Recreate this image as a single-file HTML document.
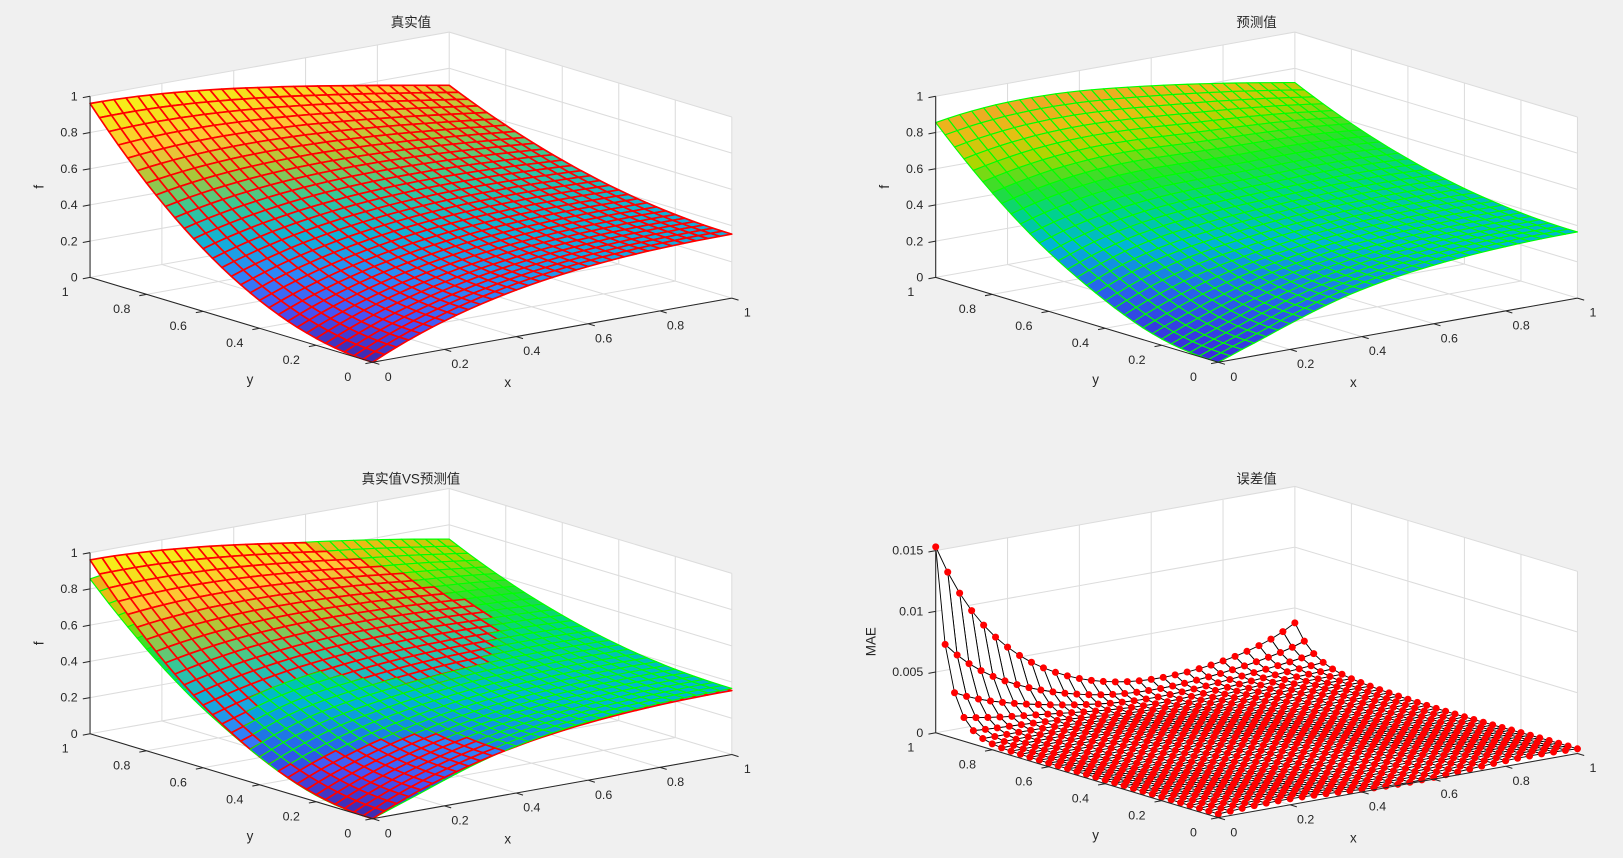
<!DOCTYPE html>
<html><head><meta charset="utf-8">
<style>
html,body{margin:0;padding:0;background:#f0f0f0;width:1623px;height:858px;overflow:hidden}
svg{display:block}
text{font-family:"Liberation Sans","Noto Sans CJK SC",sans-serif;fill:#262626}
</style></head>
<body>
<svg id="s" xmlns="http://www.w3.org/2000/svg" width="1623" height="858" viewBox="0 0 1568 829" preserveAspectRatio="none"></svg>
<script>
const parula=[[0,[62,38,168]],[0.125,[72,82,244]],[0.25,[46,135,247]],[0.375,[18,177,214]],[0.5,[55,200,151]],[0.625,[171,199,57]],[0.75,[254,195,56]],[0.875,[245,226,29]],[1,[249,251,21]]];
const predmap=[[0,[60,40,220]],[0.2,[40,100,235]],[0.35,[0,180,215]],[0.47,[0,210,140]],[0.57,[40,222,50]],[0.68,[170,215,0]],[0.78,[232,190,20]],[0.9,[240,165,40]],[1,[245,150,40]]];
function cm(st,t){t=Math.max(0,Math.min(1,t));for(let i=1;i<st.length;i++){if(t<=st[i][0]){const a=st[i-1],b=st[i],u=(t-a[0])/(b[0]-a[0]);return 'rgb('+[0,1,2].map(k=>Math.round(a[1][k]+(b[1][k]-a[1][k])*u)).join(',')+')';}}return 'rgb('+st[st.length-1][1].join(',')+')';}
function f(x,y){return 0.96*(x+y*y)*Math.exp(-x);}
function g(x,y){return f(x,y)+Math.pow(y,3)*(-0.12*Math.pow(1-x,3)+0.015)-0.025*Math.exp(-((x-0.58)**2+(y-0.72)**2)/0.05)+0.012*x*(1-y)
 +0.018*Math.exp(-((x-0.15)**2+(y-0.45)**2)/0.03)-f(x,y)*0.25*Math.exp(-(x*x+y*y)/0.05);}
function e(x,y){return 0.015*Math.exp(-5*x)*Math.exp(-(1-y)*22)+0.0033*Math.exp(-(1-x)*6)*Math.exp(-(1-y)*14)+0.0003+0.0002*Math.sin(9*x)*Math.cos(7*y);}
const N=30;let out='';
function fmt(v){return (Math.round(v*1000)/1000).toString();}
function panel(ox,oy,zs,zmax,zt,zlab,surfs,title,tx,ty){
 const P=(x,y,z)=>[ox+x*347-y*273,oy-x*62-y*82-z*zs];
 const pt=a=>a.map(p=>p[0].toFixed(1)+','+p[1].toFixed(1)).join(' ');
 out+=`<polygon points="${pt([P(0,0,0),P(1,0,0),P(1,1,0),P(0,1,0)])}" fill="#fff"/>`;
 out+=`<polygon points="${pt([P(0,1,0),P(1,1,0),P(1,1,zmax),P(0,1,zmax)])}" fill="#fff"/>`;
 out+=`<polygon points="${pt([P(1,0,0),P(1,1,0),P(1,1,zmax),P(1,0,zmax)])}" fill="#fff"/>`;
 let gl='';
 for(let i=0;i<=5;i++){const t=i/5;
  gl+=`M${P(t,0,0)}L${P(t,1,0)}L${P(t,1,zmax)}M${P(0,t,0)}L${P(1,t,0)}L${P(1,t,zmax)}`;}
 zt.forEach(z=>{gl+=`M${P(0,1,z)}L${P(1,1,z)}L${P(1,0,z)}`;});
 gl+=`M${P(0,1,zmax)}L${P(1,1,zmax)}L${P(1,0,zmax)}`;
 out+=`<path d="${gl.replace(/(\d)\s*,\s*/g,'$1 ')}" stroke="#dcdcdc" stroke-width="1" fill="none"/>`;
 const quads=[];
 surfs.forEach(s=>{for(let i=0;i<N;i++)for(let j=0;j<N;j++){
  const x0=i/N,x1=(i+1)/N,y0=j/N,y1=(j+1)/N;
  const zz=[s.fn(x0,y0),s.fn(x1,y0),s.fn(x1,y1),s.fn(x0,y1)];
  const xm=(x0+x1)/2,ym=(y0+y1)/2,zm=(zz[0]+zz[1]+zz[2]+zz[3])/4;
  const far=0.974*(0.61*xm+0.79*ym)-0.094*(zm*zs/175);
  quads.push({far,s,pts:[P(x0,y0,zz[0]),P(x1,y0,zz[1]),P(x1,y1,zz[2]),P(x0,y1,zz[3])],c:zm});}});
 quads.sort((a,b)=>b.far-a.far);
 quads.forEach(q=>{const fill=q.s.cmap?cm(q.s.cmap,q.c):'#fff';
  out+=`<polygon points="${pt(q.pts)}" fill="${fill}" stroke="${q.s.edge}" stroke-width="${q.s.lw}" stroke-linejoin="round"/>`;});
 surfs.forEach(s=>{if(s.markers){for(let i=0;i<=N;i++)for(let j=0;j<=N;j++){const p=P(i/N,j/N,s.fn(i/N,j/N));out+=`<circle cx="${p[0].toFixed(1)}" cy="${p[1].toFixed(1)}" r="3.4" fill="#f00"/>`;}}});
 let ax=`M${P(0,1,0)}L${P(0,0,0)}L${P(1,0,0)}M${P(0,1,0)}L${P(0,1,zmax)}`;
 for(let i=0;i<=5;i++){const t=i/5;let a=P(t,0,0);ax+=`M${a}l6.5 2`;a=P(0,t,0);ax+=`M${a}l-7 1.3`;}
 zt.forEach(z=>{const a=P(0,1,z);ax+=`M${a}l-7 1.3`;});
 out+=`<path d="${ax.replace(/(\d)\s*,\s*/g,'$1 ')}" stroke="#262626" stroke-width="1" fill="none"/>`;
 for(let i=0;i<=5;i++){const t=i/5;let a=P(t,0,0);
  out+=`<text x="${a[0]+15}" y="${a[1]+18}" font-size="12" text-anchor="middle">${fmt(t)}</text>`;
  a=P(0,t,0);out+=`<text x="${a[0]-24}" y="${a[1]+18}" font-size="12" text-anchor="middle">${fmt(t)}</text>`;}
 zt.forEach(z=>{const a=P(0,1,z);out+=`<text x="${a[0]-12}" y="${a[1]+4}" font-size="12" text-anchor="end">${zlab(z)}</text>`;});
 const xa=P(0.5,0,0),ya=P(0,0.5,0),za=P(0,1,zmax/2);
 out+=`<text x="${xa[0]-43}" y="${xa[1]+55}" font-size="13" text-anchor="middle">x</text>`;
 out+=`<text x="${ya[0]+18}" y="${ya[1]+62}" font-size="13" text-anchor="middle">y</text>`;
 const zl=zmax<0.1?'MAE':'f';const zx=zmax<0.1?za[0]-58:za[0]-45;
 out+=`<text transform="translate(${zx},${za[1]}) rotate(-90)" font-size="13" text-anchor="middle">${zl}</text>`;
 out+=`<text x="${tx}" y="${ty}" font-size="13" text-anchor="middle">${title}</text>`;
}
const T={fn:f,cmap:parula,edge:'#ff0000',lw:1.6};
const Pd={fn:g,cmap:predmap,edge:'#00ff00',lw:1.1};
const zt1=[0,0.2,0.4,0.6,0.8,1];
const zl1=z=>fmt(z);
panel(360,350,175,1,zt1,zl1,[T],'真实值',397,26);
panel(1177,350,175,1,zt1,zl1,[Pd],'预测值',1214,26);
panel(360,791,175,1,zt1,zl1,[T,Pd],'真实值VS预测值',397,467);
panel(1177,790,176/0.015,0.015,[0,0.005,0.01,0.015],z=>z===0?'0':z.toString(),[{fn:e,cmap:null,edge:'#000',lw:0.9,markers:true}],'误差值',1214,467);
document.getElementById('s').innerHTML=out;
</script>
</body></html>
